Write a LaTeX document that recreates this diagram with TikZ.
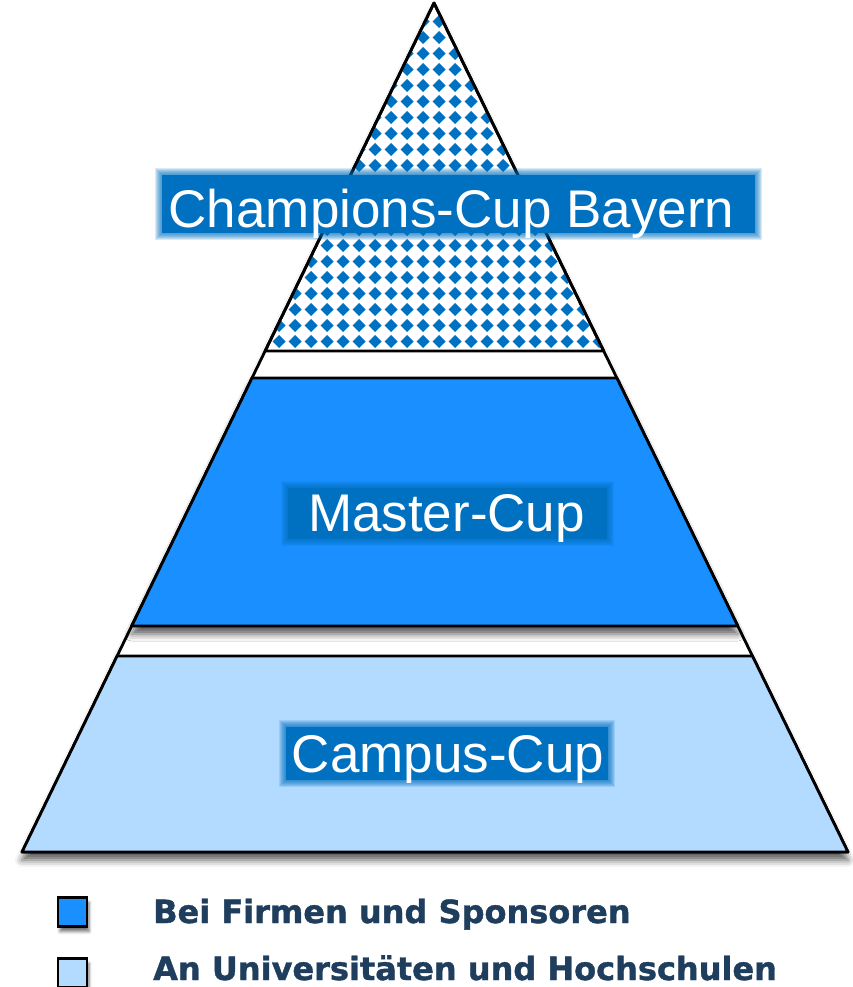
\documentclass[tikz,border=0pt]{standalone}
\usepackage{fontspec}
\setmainfont{Liberation Sans}
\newfontfamily\legfont[FakeBold=1.2]{DejaVu Sans Bold}
\usetikzlibrary{calc,shadows.blur}
\definecolor{lbl}{RGB}{0,112,192}
\definecolor{master}{RGB}{26,143,255}
\definecolor{campus}{RGB}{179,218,255}
\definecolor{navy}{RGB}{31,61,92}
\tikzset{
  tier/.style={draw=black, line width=2.8pt, line join=round},
  tiershadow/.style={blur shadow={shadow xshift=0pt, shadow yshift=-8pt, shadow blur radius=7pt, shadow opacity=65}},
  lbltxt/.style={font=\fontsize{53}{60}\selectfont, text=white, inner sep=0pt, anchor=base},
  legsq/.style={draw=black, line width=2.4pt, minimum size=29pt, inner sep=0pt, blur shadow={shadow xshift=2pt, shadow yshift=-5pt, shadow blur radius=3pt, shadow opacity=55}},
  legtxt/.style={font=\legfont\fontsize{32}{36}\selectfont, text=navy, inner sep=0pt, anchor=base west}
}
\newcommand{\glowbox}[4]{%
  \foreach \k in {1,...,7}{\fill[lbl, opacity=0.15] ({#1-\k},{#2-\k}) rectangle ({#3+\k},{#4+\k});}
  \fill[lbl] (#1,#2) rectangle (#3,#4);}
\begin{document}
\begin{tikzpicture}[x=1pt,y=-1pt]
\useasboundingbox (0,0) rectangle (852,987);
\coordinate (A) at (434,3);
\coordinate (BL) at (22,852);
\coordinate (BR) at (848,852);
\coordinate (L1) at ($(A)!0.4099!(BL)$);
\coordinate (R1) at ($(A)!0.4099!(BR)$);
\coordinate (L2) at ($(A)!0.4417!(BL)$);
\coordinate (R2) at ($(A)!0.4417!(BR)$);
\coordinate (L3) at ($(A)!0.7338!(BL)$);
\coordinate (R3) at ($(A)!0.7338!(BR)$);
\coordinate (L4) at ($(A)!0.7691!(BL)$);
\coordinate (R4) at ($(A)!0.7691!(BR)$);
% outer triangle
\draw[tier, fill=white, tiershadow] (A) -- (BL) -- (BR) -- cycle;
% top patterned tier
\begin{scope}
  \clip (A) -- (L1) -- (R1) -- cycle;
  \foreach \i in {-12,...,12}{
    \foreach \j in {-1,...,22}{
      \fill[lbl] ({439+16*\i},{21.5+16*\j}) +(0,-6.5) -- +(6.5,0) -- +(0,6.5) -- +(-6.5,0) -- cycle;
    }
  }
\end{scope}
\draw[tier] (A) -- (L1) -- (R1) -- cycle;
% master tier
\draw[tier, fill=master, tiershadow] (L2) -- (L3) -- (R3) -- (R2) -- cycle;
% campus tier
\draw[tier, fill=campus] (L4) -- (BL) -- (BR) -- (R4) -- cycle;
% labels
\glowbox{162}{175}{755}{233}
\node[lbltxt] (champ) at (451.5,227) {Champions-Cup Bayern};
\glowbox{288}{488}{607}{539}
\node[lbltxt] (mastercup) at (446.5,531) {Master-Cup};
\glowbox{286}{727}{608}{780}
\node[lbltxt] (campuscup) at (448,772) {Campus-Cup};
% legend
\node[legsq, fill=master] (sq1) at (72.5,912) {};
\node[legsq, fill=campus] (sq2) at (72.5,973) {};
\node[legtxt] (t1) at (153,923) {Bei Firmen und Sponsoren};
\node[legtxt] (t2) at (153,980) {An Universitäten und Hochschulen};
\end{tikzpicture}
\end{document}
